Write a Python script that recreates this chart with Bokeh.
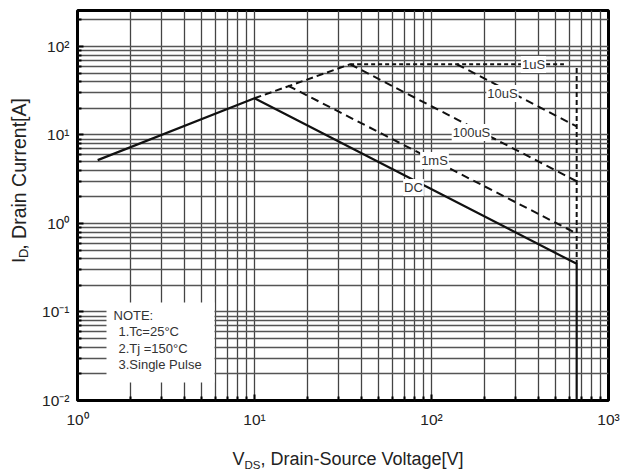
import math

from bokeh.embed import file_html
from bokeh.layouts import column, row
from bokeh.models import BoxAnnotation, CustomJSTickFormatter, FixedTicker, Label, Range1d
from bokeh.plotting import figure
from bokeh.resources import INLINE

# Safe operating area limits: V_DS in volts, I_D in amperes
dc_v = [1.3, 10.0, 661.0, 661.0]
dc_i = [5.2, 26.0, 0.35, 0.01]

pulse_rise_v = [10.0, 34.7]
pulse_rise_i = [26.0, 63.0]

us1_v = [34.7, 560.0]
us1_i = [63.0, 63.0]

us10_v = [139.0, 661.0]
us10_i = [63.0, 12.5]

us100_v = [34.7, 661.0]
us100_i = [63.0, 3.0]

ms1_v = [15.5, 661.0]
ms1_i = [36.0, 0.77]

bvdss_v = [661.0, 661.0]
bvdss_i = [57.0, 0.35]

x_ticks = [1, 10, 100, 1000]
y_ticks = [0.01, 0.1, 1, 10, 100]

notes = ["NOTE:", "1.Tc=25\u00b0C", "2.Tj =150\u00b0C", "3.Single Pulse"]

# ---------------------------------------------------------------- layout
W, H = 622, 475          # whole page
YLAB_W = 36              # strip on the left holding the y title
XLAB_H = 30              # strip along the bottom holding the x title
MW, MH = W - YLAB_W, H - XLAB_H
LEFT, RIGHT, TOP, BOTTOM = 77, 14, 10, 75   # frame edges, in page pixels
X_RANGE = (1, 1000)
Y_RANGE = (0.01, 255)
FONT = "Liberation Sans"
INK = "#111111"

FW = W - LEFT - RIGHT
FH = H - TOP - BOTTOM


def at(px, py):
    """Page pixel position -> data coordinates on the log/log frame."""
    lx0, lx1 = math.log10(X_RANGE[0]), math.log10(X_RANGE[1])
    ly0, ly1 = math.log10(Y_RANGE[0]), math.log10(Y_RANGE[1])
    x = 10 ** (lx0 + (px - LEFT) / FW * (lx1 - lx0))
    y = 10 ** (ly0 + (H - BOTTOM - py) / FH * (ly1 - ly0))
    return x, y


def minor_ticks(majors, lo, hi):
    out = []
    for d in majors + [majors[-1] * 10]:
        for m in range(2, 10):
            v = d * m
            if lo < v < hi:
                out.append(v)
    return out


p = figure(
    width=MW, height=MH,
    x_axis_type="log", y_axis_type="log",
    x_range=X_RANGE, y_range=Y_RANGE,
    output_backend="svg", toolbar_location=None,
    min_border_left=LEFT - YLAB_W, min_border_right=RIGHT,
    min_border_top=TOP, min_border_bottom=BOTTOM - XLAB_H,
)
p.title.visible = False
p.background_fill_color = "white"
p.border_fill_color = "white"
p.outline_line_color = "black"
p.outline_line_width = 3

sup = CustomJSTickFormatter(code="""
    const s = {"-": "\u207b", "0": "\u2070", "1": "\u00b9", "2": "\u00b2", "3": "\u00b3"};
    const e = Math.round(Math.log10(tick));
    return "10" + String(e).split("").map(c => s[c]).join("");
""")

p.xaxis.ticker = FixedTicker(ticks=x_ticks, minor_ticks=minor_ticks(x_ticks, *X_RANGE))
p.yaxis.ticker = FixedTicker(ticks=y_ticks, minor_ticks=minor_ticks(y_ticks, *Y_RANGE))

for ax in (p.xaxis[0], p.yaxis[0]):
    ax.formatter = sup
    ax.axis_line_color = None
    ax.major_tick_in = 6
    ax.major_tick_out = 0
    ax.minor_tick_in = 4
    ax.minor_tick_out = 0
    ax.major_tick_line_color = "black"
    ax.minor_tick_line_color = "black"
    ax.major_tick_line_width = 2
    ax.minor_tick_line_width = 2
    ax.major_label_text_font = FONT
    ax.major_label_text_font_size = "15.5px"
    ax.major_label_text_color = "#222222"
p.xaxis.major_label_standoff = 10
p.yaxis.major_label_standoff = 8

p.xgrid.grid_line_color = "#444444"
p.xgrid.minor_grid_line_color = "#444444"
p.ygrid.grid_line_color = "#555555"
p.ygrid.minor_grid_line_color = "#555555"
for g in (p.xgrid[0], p.ygrid[0]):
    g.grid_line_width = 1.3
    g.minor_grid_line_width = 1.3
    g.grid_line_alpha = 1
    g.minor_grid_line_alpha = 1

# ---------------------------------------------------------------- curves
p.line(dc_v, dc_i, line_color=INK, line_width=2.2)
p.line(pulse_rise_v, pulse_rise_i, line_color=INK, line_width=2, line_dash="7 4")
p.line(us1_v, us1_i, line_color=INK, line_width=2, line_dash="4 3")
p.line(us10_v, us10_i, line_color=INK, line_width=2, line_dash="8 5")
p.line(us100_v, us100_i, line_color=INK, line_width=2, line_dash="8 5")
p.line(ms1_v, ms1_i, line_color=INK, line_width=2, line_dash="8 5")
p.line(bvdss_v, bvdss_i, line_color=INK, line_width=2, line_dash="5 3")

# curve names, on white so the lines break around them
for text, (px, py) in [("1uS", (533, 64)), ("10uS", (502, 93)), ("100uS", (471, 132)),
                       ("1mS", (434, 160)), ("DC", (413, 187))]:
    x, y = at(px, py)
    p.add_layout(Label(x=x, y=y, text=text, text_align="center", text_baseline="middle",
                       text_font=FONT, text_font_size="13px", text_color="#333333",
                       background_fill_color="white", background_fill_alpha=1.0,
                       padding=1))

# note panel
(bx0, by0), (bx1, by1) = at(106, 382), at(214, 302)
p.add_layout(BoxAnnotation(left=bx0, right=bx1, bottom=by0, top=by1,
                           fill_color="white", fill_alpha=1.0, line_color=None))
for i, text in enumerate(notes):
    x, y = at(113 if i == 0 else 118, 315 + 16.3 * i)
    p.add_layout(Label(x=x, y=y, text=text, text_align="left", text_baseline="middle",
                       text_font=FONT, text_font_size="13px", text_color="#333333"))


# ---------------------------------------------------------------- axis titles
def strip(w, h):
    f = figure(width=w, height=h, x_range=Range1d(0, w), y_range=Range1d(0, h),
               output_backend="svg", toolbar_location=None,
               x_axis_location=None, y_axis_location=None,
               min_border=0, outline_line_color=None)
    f.title.visible = False
    f.grid.visible = False
    f.background_fill_color = "white"
    f.border_fill_color = "white"
    return f


def put(f, x0, y0, px, py, text, size, angle=0.0):
    """Write text at page pixel (px, py) into strip f whose top-left sits at (x0, y0)."""
    f.add_layout(Label(x=px - x0, y=f.height - (py - y0), text=text, angle=angle,
                       text_align="left", text_baseline="middle", text_font=FONT,
                       text_font_size=size, text_color="#222222"))


yt = strip(YLAB_W, MH)
put(yt, 0, 0, 18, 288, "I", "19px", math.pi / 2)
put(yt, 0, 0, 23, 282.5, "D", "13px", math.pi / 2)
put(yt, 0, 0, 18, 273, ", Drain Current[A]", "19.5px", math.pi / 2)

xt = strip(W, XLAB_H)
put(xt, 0, MH, 232, 458, "V", "18px")
put(xt, 0, MH, 244, 464, "DS", "11.5px")
put(xt, 0, MH, 260, 458, ", Drain-Source Voltage[V]", "18px")

page = column(row(yt, p, spacing=0), xt, spacing=0)
open("out.html", "w").write(file_html(page, INLINE))
